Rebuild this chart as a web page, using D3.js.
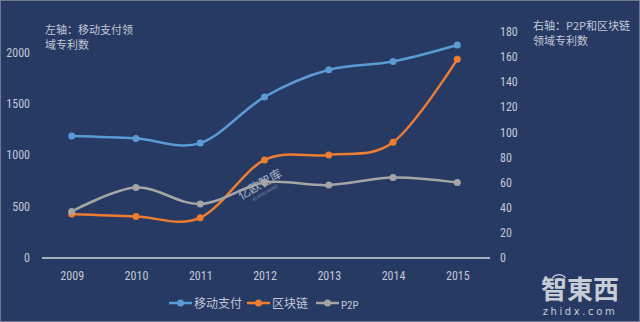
<!DOCTYPE html>
<html>
<head>
<meta charset="utf-8">
<script src="https://cdn.jsdelivr.net/npm/d3@7"></script>
<style>
  html, body { margin: 0; padding: 0; background: #263a64; }
  svg { display: block; }
</style>
</head>
<body>
<svg id="chart" width="640" height="322"></svg>
<script>
// Patent counts per year
const years = ["2009", "2010", "2011", "2012", "2013", "2014", "2015"];
const mobilePay = [1185, 1162, 1117, 1566, 1830, 1910, 2070];   // left axis
const blockchain = [35, 33, 32, 78, 82, 92, 158];              // right axis
const p2p = [37, 56, 43, 60, 58, 64, 60];                      // right axis
const leftTicks = [0, 500, 1000, 1500, 2000];
const rightTicks = [0, 20, 40, 60, 80, 100, 120, 140, 160, 180];
const seriesNames = ["移动支付", "区块链", "P2P"];
const leftTitle = ["左轴：移动支付领", "域专利数"];
const rightTitle = ["右轴：P2P和区块链", "领域专利数"];

const W = 640, H = 322;
const svg = d3.select("#chart");
const textColor = "#c3c8d4";
const numFont = "'Liberation Sans Narrow', 'Roboto Condensed', Roboto, sans-serif";
const cjkFont = "'Noto Sans CJK SC', 'Noto Sans', sans-serif";

svg.append("rect").attr("width", W).attr("height", H).attr("fill", "#263a64");
svg.append("rect").attr("x", 0.5).attr("y", 0.5).attr("width", W - 1).attr("height", H - 1)
  .attr("fill", "none").attr("stroke", "#6f7a92").attr("stroke-width", 1);

const x = d3.scalePoint().domain(years).range([71.7, 457.3]);
const yL = d3.scaleLinear().domain([0, 2200]).range([258, 31.7]);
const yR = d3.scaleLinear().domain([0, 180]).range([258, 31.7]);

// baseline
svg.append("line").attr("x1", 42).attr("x2", 490).attr("y1", 258).attr("y2", 258)
  .attr("stroke", "#d4d7de").attr("stroke-width", 1.3);

// left axis
const axL = svg.append("g").attr("transform", "translate(30,0)")
  .call(d3.axisLeft(yL).tickValues(leftTicks).tickFormat(d3.format("d")).tickSize(0).tickPadding(0));
axL.select(".domain").remove();
axL.selectAll("text").attr("fill", textColor).style("font-family", numFont).style("font-size", "12px");

// right axis
const axR = svg.append("g").attr("transform", "translate(500,0)")
  .call(d3.axisRight(yR).tickValues(rightTicks).tickFormat(d3.format("d")).tickSize(0).tickPadding(0));
axR.select(".domain").remove();
axR.selectAll("text").attr("fill", textColor).style("font-family", numFont).style("font-size", "12px");

// bottom axis
const axB = svg.append("g").attr("transform", "translate(0,258)")
  .call(d3.axisBottom(x).tickSize(0).tickPadding(13));
axB.select(".domain").remove();
axB.selectAll("text").attr("fill", textColor).style("font-family", numFont).style("font-size", "12px");

// axis titles, two lines each
function titleBlock(lines, x0, y0) {
  lines.forEach((t, i) => {
    svg.append("text").attr("x", x0).attr("y", y0 + i * 15).attr("fill", textColor)
      .style("font-family", cjkFont).style("font-size", "11px").text(t);
  });
}
titleBlock(leftTitle, 45, 34);
titleBlock(rightTitle, 533, 30);

// series
const series = [
  { name: seriesNames[0], values: mobilePay, y: yL, color: "#5b9bd5" },
  { name: seriesNames[1], values: blockchain, y: yR, color: "#ed7d31" },
  { name: seriesNames[2], values: p2p, y: yR, color: "#a5a5a5" }
];

// faint watermark between the lines
const wm = svg.append("g").attr("transform", "translate(262,188) rotate(-30)")
  .attr("fill", "#e4e8f0").attr("opacity", 0.7);
wm.append("text").attr("x", -24).attr("y", 0).style("font-family", cjkFont)
  .style("font-size", "12px").text("亿欧智库");
wm.append("text").attr("x", -14).attr("y", 7).style("font-family", numFont)
  .style("font-size", "4px").attr("opacity", 0.7).text("EO INTELLIGENCE");

const line = d3.line().curve(d3.curveCatmullRom.alpha(0));
series.forEach(s => {
  const pts = s.values.map((v, i) => [x(years[i]), s.y(v)]);
  svg.append("path").attr("d", line(pts)).attr("fill", "none")
    .attr("stroke", s.color).attr("stroke-width", 2.5).attr("stroke-linecap", "round");
  svg.selectAll(null).data(pts).enter().append("circle")
    .attr("cx", d => d[0]).attr("cy", d => d[1]).attr("r", 3.5).attr("fill", s.color);
});

// legend
const legendX = [169, 247, 316];
series.forEach((s, i) => {
  const g = svg.append("g").attr("transform", `translate(${legendX[i]},303)`);
  g.append("line").attr("x1", 0).attr("x2", 23).attr("stroke", s.color).attr("stroke-width", 2.5);
  g.append("circle").attr("cx", 11.5).attr("r", 3.5).attr("fill", s.color);
  g.append("text").attr("x", 25).attr("y", i === 2 ? 6 : 4.5).attr("fill", textColor)
    .style("font-family", i === 2 ? numFont : cjkFont).style("font-size", i === 2 ? "11px" : "12px")
    .text(s.name);
});

// publisher mark
const mark = svg.append("g").attr("fill", "#c9cdd6");
mark.append("text").attr("x", 580).attr("y", 299).attr("text-anchor", "middle")
  .style("font-family", cjkFont).style("font-size", "26px").style("font-weight", "bold").text("智東西");
mark.append("text").attr("x", 580).attr("y", 315).attr("text-anchor", "middle")
  .style("font-family", "'DejaVu Sans', sans-serif").style("font-size", "10px")
  .style("letter-spacing", "2.6px").text("zhidx.com");
[5, 9].forEach(r => {
  mark.append("path")
    .attr("d", d3.arc().innerRadius(r - 1.3).outerRadius(r).startAngle(-0.9).endAngle(0.9)())
    .attr("transform", "translate(559,283)");
});
</script>
</body>
</html>
